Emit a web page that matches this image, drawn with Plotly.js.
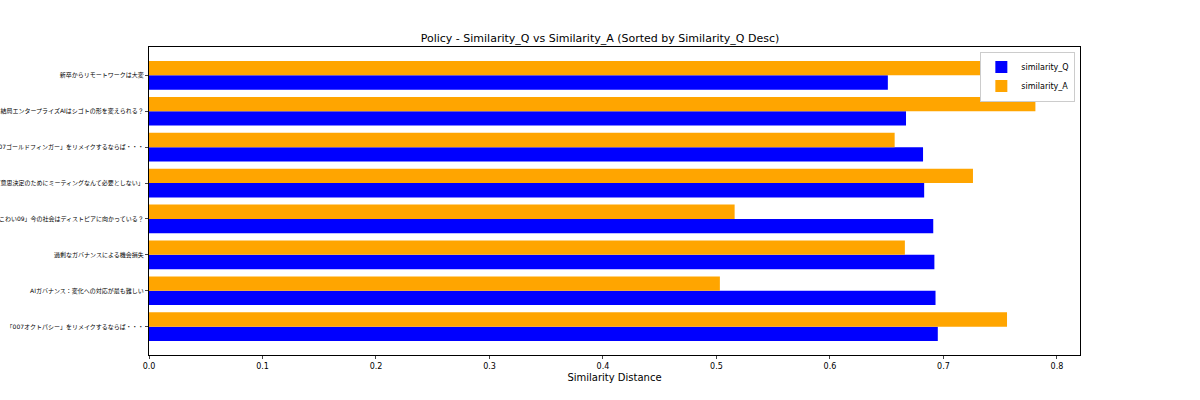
<!DOCTYPE html><html><head><meta charset="utf-8"><script src="https://cdn.plot.ly/plotly-3.0.1.min.js"></script>
<style>body{margin:0}#c{width:1200px;height:400px}</style></head><body><div id="c"></div><script>
const categories=["新卒からリモートワークは大変","結局エンタープライズAIはシゴトの形を変えられる？","「007ゴールドフィンガー」をリメイクするならば・・・","AIは「意思決定のためにミーティングなんて必要としない」","「AIこわい09」今の社会はディストピアに向かっている？","過剰なガバナンスによる機会損失","AIガバナンス：変化への対応が最も難しい","「007オクトパシー」をリメイクするならば・・・"];
const similarityQ=[0.651,0.667,0.682,0.683,0.691,0.692,0.693,0.695];
const similarityA=[0.743,0.781,0.657,0.726,0.516,0.666,0.503,0.756];
const cats=categories.slice().reverse(), q=similarityQ.slice().reverse(), a=similarityA.slice().reverse();
const f="DejaVu Sans, Noto Sans CJK JP";
Plotly.newPlot('c',[
{type:'bar',orientation:'h',name:'similarity_Q',y:cats,x:q,marker:{color:'#0000ff'}},
{type:'bar',orientation:'h',name:'similarity_A',y:cats,x:a,marker:{color:'#ffa500'}}
],{width:1200,height:400,barmode:'group',bargap:0.2,bargroupgap:0,
font:{family:f,size:10,color:'#000'},plot_bgcolor:'#fff',paper_bgcolor:'#fff',
margin:{l:149,r:120,t:47,b:45},
title:{text:'Policy - Similarity_Q vs Similarity_A (Sorted by Similarity_Q Desc)',font:{size:11,family:f},x:0.5,xanchor:'center',y:0.915},
xaxis:{range:[0,0.8203],tickvals:[0,0.1,0.2,0.3,0.4,0.5,0.6,0.7,0.8],ticktext:['0.0','0.1','0.2','0.3','0.4','0.5','0.6','0.7','0.8'],showgrid:false,zeroline:false,showline:true,mirror:true,linecolor:'#000',ticks:'outside',ticklen:3,tickfont:{size:8},title:{text:'Similarity Distance',font:{size:10},standoff:4}},
yaxis:{type:'category',range:[-0.79,7.79],showgrid:false,zeroline:false,showline:true,mirror:true,linecolor:'#000',ticks:'outside',ticklen:3,tickfont:{size:6}},
legend:{x:0.995,xanchor:'right',y:0.985,yanchor:'top',bordercolor:'#ccc',borderwidth:1,font:{size:8},itemwidth:30,tracegroupgap:0},
showlegend:true},{displayModeBar:false});
</script></body></html>
